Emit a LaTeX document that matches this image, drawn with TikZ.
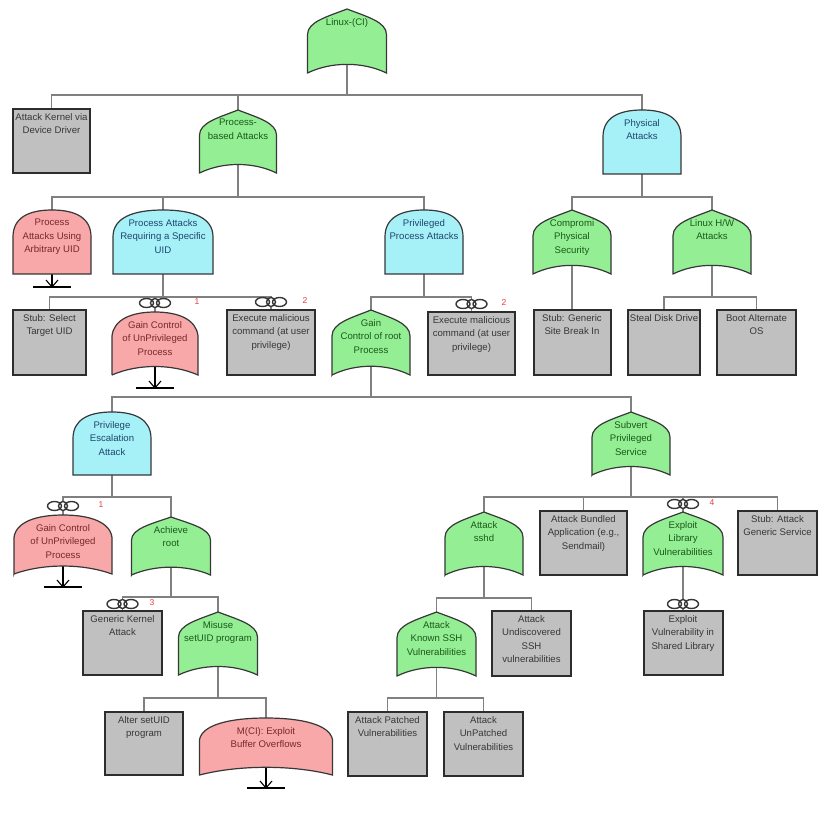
\documentclass[tikz,border=0pt]{standalone}
\usepackage{fontspec}
\setmainfont{Liberation Sans}

\definecolor{gatgreen}{RGB}{148,238,148}
\definecolor{gatcyan}{RGB}{166,240,248}
\definecolor{gatpink}{RGB}{248,168,168}
\definecolor{leafgray}{RGB}{192,192,192}
\definecolor{edgegray}{RGB}{55,55,55}
\definecolor{boxedge}{RGB}{45,45,45}
\definecolor{linkgray}{RGB}{128,128,128}
\definecolor{txtgreen}{RGB}{25,90,25}
\definecolor{txtcyan}{RGB}{30,70,110}
\definecolor{txtpink}{RGB}{120,40,40}
\definecolor{txtgray}{RGB}{55,55,55}
\definecolor{refred}{RGB}{230,60,60}

\pgfdeclarelayer{links}
\pgfdeclarelayer{shapes}
\pgfsetlayers{links,shapes,main}

\tikzset{
  link/.style={draw=linkgray, line width=1.1pt},
  outline/.style={draw=edgegray, line width=1.2pt},
  greengate/.style={outline, fill=gatgreen},
  greengate text/.style={text=txtgreen},
  cyangate/.style={outline, fill=gatcyan},
  cyangate text/.style={text=txtcyan},
  pinkgate/.style={outline, fill=gatpink},
  pinkgate text/.style={text=txtpink},
  leaf/.style={draw=boxedge, line width=2pt, fill=leafgray},
  leaf text/.style={text=txtgray},
  lbl/.style={font=\fontsize{9.6}{13.5}\selectfont, align=center, inner sep=0pt, anchor=north},
  refno/.style={font=\fontsize{8.5}{9}\selectfont, text=refred, inner sep=0pt},
  transfer/.style={draw=black, line width=1.6pt},
  linkicon/.pic={
    \fill[white] (-8.5,0) ellipse [x radius=7pt, y radius=4.5pt]
      (8.5,0) ellipse [x radius=7pt, y radius=4.5pt]
      (0,0) ellipse [x radius=4.5pt, y radius=4.5pt];
    \draw[edgegray, line width=1.4pt] (-8.5,0) ellipse [x radius=7pt, y radius=4.5pt]
      (8.5,0) ellipse [x radius=7pt, y radius=4.5pt]
      (0,0) ellipse [x radius=4.5pt, y radius=4.5pt];
  }
}

% #1 colour, #2 name, #3 centre x, #4 top y, #5 width, #6 height, #7 text
\newcommand{\orgate}[7][greengate]{%
  \begin{pgfonlayer}{shapes}
    \filldraw[#1, shift={(#3,#4)}, xscale=#5/2, yscale=#6]
      (-1,1) -- (-1,.4) .. controls (-1,.2) and (-.5,.12) .. (0,0)
      .. controls (.5,.12) and (1,.2) .. (1,.4) -- (1,1)
      .. controls (.4,.82) and (-.4,.82) .. cycle;
  \end{pgfonlayer}
  \node[lbl, #1 text] (#2) at (#3,#4+9) {#7};
  \coordinate (#2-b) at (#3,#4+#6);
}
\newcommand{\andgate}[7][cyangate]{%
  \begin{pgfonlayer}{shapes}
    \filldraw[#1, shift={(#3,#4)}, xscale=#5/2, yscale=#6]
      (-1,1) -- (-1,.42) .. controls (-1,.12) and (-.6,0) .. (0,0)
      .. controls (.6,0) and (1,.12) .. (1,.42) -- (1,1) -- cycle;
  \end{pgfonlayer}
  \node[lbl, #1 text] (#2) at (#3,#4+9) {#7};
  \coordinate (#2-b) at (#3,#4+#6);
}
\newcommand{\roundgate}[7][pinkgate]{%
  \begin{pgfonlayer}{shapes}
    \filldraw[#1, shift={(#3,#4)}, xscale=#5/2, yscale=#6]
      (-1,1) -- (-1,.38) .. controls (-.96,.12) and (-.55,0) .. (0,0)
      .. controls (.55,0) and (.96,.12) .. (1,.38) -- (1,1)
      .. controls (.4,.82) and (-.4,.82) .. cycle;
  \end{pgfonlayer}
  \node[lbl, #1 text] (#2) at (#3,#4+9) {#7};
  \coordinate (#2-b) at (#3,#4+#6);
}
\newcommand{\leafbox}[7][leaf]{%
  \begin{pgfonlayer}{shapes}
    \filldraw[#1, shift={(#3,#4)}, xscale=#5/2, yscale=#6] (-1,0) rectangle (1,1);
  \end{pgfonlayer}
  \node[lbl, #1 text] (#2) at (#3,#4+4) {#7};
  \coordinate (#2-b) at (#3,#4+#6);
}
\newcommand{\chainpic}[2]{%
  \begin{pgfonlayer}{shapes}\pic at (#1,#2) {linkicon};\end{pgfonlayer}}
% #1 name, #2 x, #3 y, #4 number x, #5 number
\newcommand{\reflink}[5]{%
  \chainpic{#2}{#3}
  \node[refno] (#1) at (#4,#3-1) {#5};
}
\newcommand{\transfer}[1]{%
  \begin{pgfonlayer}{links}
    \draw[transfer] (#1.center) -- ([yshift=-13pt]#1-b);
    \draw[transfer] ([xshift=-19pt,yshift=-13pt]#1-b) -- ([xshift=19pt,yshift=-13pt]#1-b);
    \draw[transfer, line width=1.1pt] ([xshift=-6pt,yshift=-6pt]#1-b) -- ([yshift=-13pt]#1-b)
      -- ([xshift=6pt,yshift=-6pt]#1-b);
  \end{pgfonlayer}}
% parent, bus y, children
\newcommand{\tree}[3]{%
  \coordinate (bus) at (0,#2);
  \foreach \kid in {#3} {\draw[link] (#1.center) |- (\kid.center |- bus) -- (\kid.center);}
}

\begin{document}
\begin{tikzpicture}[x=1pt, y=-1pt]
\useasboundingbox (0,0) rectangle (837,822);

\orgate{root}{347}{9}{79}{64}{Linux-(CI)}
\leafbox{kernel}{51.5}{109}{77}{64}{Attack Kernel via\\Device Driver}
\orgate{procb}{238}{110}{77}{63}{Process-\\based Attacks}
\andgate{phys}{642}{110}{78}{64}{Physical\\Attacks}

\andgate[pinkgate]{arbuid}{52}{210}{78}{64}{Process\\Attacks Using\\Arbitrary UID}
\andgate{requid}{163}{210}{100}{64}{Process Attacks\\Requiring a Specific\\UID}
\andgate{privp}{424}{210}{78}{64}{Privileged\\Process Attacks}
\orgate{compphys}{572}{210}{78}{64}{Compromi\\Physical\\Security}
\orgate{hwatt}{712}{210}{78}{64}{Linux H/W\\Attacks}

\leafbox{seluid}{49.5}{310}{73}{65}{Stub: Select\\Target UID}
\roundgate{gcu1}{155}{312}{86}{63}{Gain Control\\of UnPrivileged\\Process}
\leafbox{exec1}{271}{310}{88}{65}{Execute malicious\\command (at user\\privilege)}
\orgate{gainroot}{371}{310}{78}{65}{Gain\\Control of root\\Process}
\leafbox{exec2}{471.5}{312}{87}{63}{Execute malicious\\command (at user\\privilege)}
\leafbox{site}{572}{310}{77}{65}{Stub: Generic\\Site Break In}
\leafbox{steal}{664}{310}{72}{65}{Steal Disk Drive}
\leafbox{boot}{756.5}{310}{79}{65}{Boot Alternate\\OS}

\andgate{privesc}{112}{412}{78}{63}{Privilege\\Escalation\\Attack}
\orgate{subvert}{631}{412}{78}{63}{Subvert\\Privileged\\Service}

\roundgate{gcu2}{63}{515}{98}{59}{Gain Control\\of UnPrivileged\\Process}
\orgate{achroot}{171}{517}{79}{58}{Achieve\\root}
\leafbox{genkern}{122.5}{611}{79}{64}{Generic Kernel\\Attack}
\orgate{misuse}{218}{612}{79}{63}{Misuse\\setUID program}
\leafbox{altersuid}{144}{712}{78}{63}{Alter setUID\\program}
\roundgate{mci}{266}{718}{133}{57}{M(CI): Exploit\\Buffer Overflows}

\orgate{sshd}{484}{512}{78}{63}{Attack\\sshd}
\leafbox{bundled}{583.5}{511}{87}{64}{Attack Bundled\\Application (e.g.,\\Sendmail)}
\orgate{exlib}{683}{512}{80}{63}{Exploit\\Library\\Vulnerabilities}
\leafbox{stubgen}{777.5}{511}{79}{64}{Stub: Attack\\Generic Service}
\leafbox{exshared}{683}{611}{79}{64}{Exploit\\Vulnerability in\\Shared Library}
\orgate{knownssh}{436.5}{612}{79}{64}{Attack\\Known SSH\\Vulnerabilities}
\leafbox{undisc}{531.5}{611}{79}{65}{Attack\\Undiscovered\\SSH\\vulnerabilities}
\leafbox{patched}{387.5}{712}{79}{64}{Attack Patched\\Vulnerabilities}
\leafbox{unpatched}{483.5}{712}{79}{64}{Attack\\UnPatched\\Vulnerabilities}

% reference links
\reflink{ref1a}{155}{303}{197}{1}
\reflink{ref2a}{271}{302}{305}{2}
\reflink{ref2b}{471.5}{304}{504}{2}
\reflink{ref1b}{63}{506}{101}{1}
\reflink{ref3}{122.5}{604}{152}{3}
\reflink{ref4}{683}{504}{712}{4}
\chainpic{683}{604}

\transfer{arbuid}
\transfer{gcu1}
\transfer{gcu2}
\transfer{mci}

\begin{pgfonlayer}{links}
\tree{root}{95}{kernel,procb,phys}
\tree{procb}{197}{arbuid,requid,privp}
\tree{phys}{197}{compphys,hwatt}
\tree{requid}{297}{seluid,gcu1,exec1}
\tree{privp}{297}{gainroot,exec2}
\tree{compphys}{297}{site}
\tree{hwatt}{297}{steal,boot}
\tree{gainroot}{397}{privesc,subvert}
\tree{privesc}{497}{gcu2,achroot}
\tree{subvert}{497}{sshd,bundled,exlib,stubgen}
\tree{exlib}{597}{exshared}
\tree{achroot}{597}{genkern,misuse}
\tree{misuse}{698}{altersuid,mci}
\tree{sshd}{598}{knownssh,undisc}
\tree{knownssh}{698}{patched,unpatched}
\end{pgfonlayer}
\end{tikzpicture}
\end{document}
